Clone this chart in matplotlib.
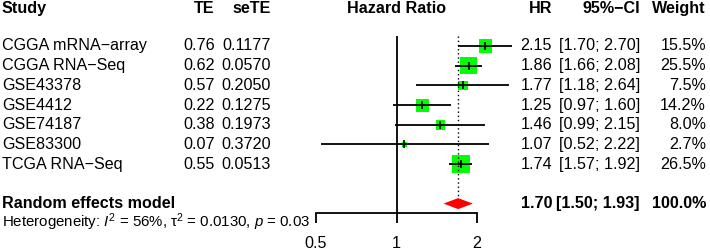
import numpy as np
import matplotlib
matplotlib.use("Agg")
import matplotlib.pyplot as plt
from matplotlib.transforms import blended_transform_factory

plt.rcParams['font.family'] = ['Liberation Sans', 'DejaVu Sans']
plt.rcParams['mathtext.fontset'] = 'custom'
plt.rcParams['mathtext.rm'] = 'Liberation Sans'
plt.rcParams['mathtext.it'] = 'Liberation Sans:italic'

# Study data
studies = ["CGGA mRNA\u2212array", "CGGA RNA\u2212Seq", "GSE43378", "GSE4412",
           "GSE74187", "GSE83300", "TCGA RNA\u2212Seq"]
te = ["0.76", "0.62", "0.57", "0.22", "0.38", "0.07", "0.55"]
sete = ["0.1177", "0.0570", "0.2050", "0.1275", "0.1973", "0.3720", "0.0513"]
hr = [2.15, 1.86, 1.77, 1.25, 1.46, 1.07, 1.74]
lower = [1.70, 1.66, 1.18, 0.97, 0.99, 0.52, 1.57]
upper = [2.70, 2.08, 2.64, 1.60, 2.15, 2.22, 1.92]
weight = [15.5, 25.5, 7.5, 14.2, 8.0, 2.7, 26.5]

# Random effects model
re_hr, re_lower, re_upper = 1.70, 1.50, 1.93

ticks = [0.5, 1, 2]

fs = 11.6
fig = plt.figure(figsize=(7.1, 2.49), dpi=100)
ax = fig.add_axes([316 / 710, 0, 161 / 710, 1])
ax.set_xscale('log')
ax.set_xlim(0.5, 2)
ax.set_ylim(10.305, -2.335)

rows = np.arange(len(studies))
re_row = 8
head_row = -1.88

# CI lines, squares and centre ticks
side_px = 17.7 * np.sqrt(np.array(weight) / max(weight))
ax.scatter(hr, rows, marker='s', s=(side_px * 0.72) ** 2, color='#00FF00',
           linewidths=0, zorder=2, clip_on=False)
ax.hlines(rows, lower, upper, color='black', lw=1.3, zorder=3, clip_on=False)
ax.scatter(hr, rows, marker='|', s=30, color='black', linewidths=1.2, zorder=4, clip_on=False)

# reference lines
ax.vlines(1, -0.51, 8.48, color='black', lw=1.3)
ax.vlines(re_hr, -0.51, 7.7, color='black', lw=1.0, linestyles=(0, (1, 2)))

# diamond
h = 0.28
ax.fill([re_lower, re_hr, re_upper, re_hr], [re_row, re_row - h, re_row, re_row + h],
        color='#FF0000', lw=0, zorder=3)

# axis
for s in ['top', 'left', 'right']:
    ax.spines[s].set_visible(False)
ax.spines['bottom'].set_position(('data', 8.48))
ax.spines['bottom'].set_bounds(0.5, 2)
ax.spines['bottom'].set_linewidth(1.3)
ax.set_xticks(ticks)
ax.set_xticklabels([f"{t:g}" for t in ticks], fontsize=fs)
ax.xaxis.set_minor_locator(matplotlib.ticker.NullLocator())
ax.tick_params(axis='x', direction='out', length=7.2, width=1.3, pad=9)
ax.set_yticks([])
ax.patch.set_alpha(0)

tr = blended_transform_factory(fig.transFigure, ax.transData)

def col(px, y, s, ha='right', bold=False, size=fs):
    fig.text(px / 710, y, s, transform=tr, ha=ha, va='center', fontsize=size,
             fontweight='bold' if bold else 'normal')

# headers
col(2, head_row, "Study", ha='left', bold=True)
col(215, head_row, "TE", bold=True)
col(271, head_row, "seTE", bold=True)
ax.text(1, head_row, "Hazard Ratio", ha='center', va='center', fontsize=fs, fontweight='bold')
col(552, head_row, "HR", bold=True)
col(640, head_row, "95%\u2212CI", bold=True)
col(706, head_row, "Weight", bold=True)

for i in rows:
    col(2, i, studies[i], ha='left')
    col(215, i, te[i])
    col(271, i, sete[i])
    col(552, i, f"{hr[i]:.2f}")
    col(640, i, f"[{lower[i]:.2f}; {upper[i]:.2f}]")
    col(706, i, f"{weight[i]:.1f}%")

col(2, re_row, "Random effects model", ha='left', bold=True)
col(552, re_row, f"{re_hr:.2f}", bold=True)
col(640, re_row, f"[{re_lower:.2f}; {re_upper:.2f}]", bold=True)
col(706, re_row, "100.0%", bold=True)

col(2, 8.93, r"Heterogeneity: $I^2$ = 56%, τ$^2$ = 0.0130, $p$ = 0.03", ha='left', size=10.8)

fig.savefig("out.png", dpi=100)
